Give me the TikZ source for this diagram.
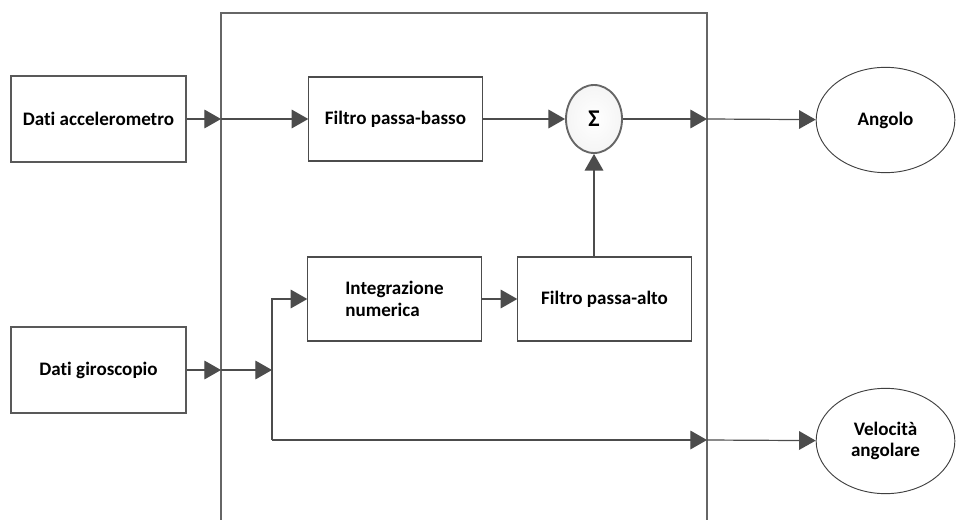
\documentclass[tikz,border=0pt]{standalone}
\usepackage{fontspec}
\setmainfont{Carlito}[Ligatures=NoCommon]
\usetikzlibrary{arrows.meta,shapes.geometric,shadows}

\begin{document}
\begin{tikzpicture}[x=0.75pt,y=-0.75pt,
    font=\fontsize{14.3}{16}\selectfont\bfseries,
    wire/.style={draw=black!70,line width=0.9pt},
    arr/.style={wire,-{Triangle[length=12.5pt,width=14pt]}},
    inbox/.style={draw=black!65,line width=1.5pt,fill=white,minimum width=131pt,minimum height=64pt,
      drop shadow={shadow xshift=0.7pt,shadow yshift=-0.7pt,fill=black!25}},
    block/.style={draw=black!70,line width=0.8pt,fill=white,minimum width=130pt,minimum height=63pt},
    sumnode/.style={ellipse,draw=black!60,line width=1.4pt,inner color=white,outer color=black!4,
      minimum width=42pt,minimum height=51pt,inner sep=0pt,font=\fontsize{18}{18}\selectfont\bfseries,
      drop shadow={shadow xshift=0.6pt,shadow yshift=-0.6pt,fill=black!20}},
    outnode/.style={ellipse,draw=black!75,line width=0.7pt,minimum width=104pt,minimum height=79pt,
      inner sep=0pt,align=center}]
  \useasboundingbox (0,0) rectangle (956,520);

  % filter frame, open at the bottom
  \draw[draw=black!60,line width=1.3pt] (221,520) -- (221,13) -- (707,13) -- (707,520);

  % sensors
  \node[inbox] (acc) at (98.5,119) {Dati accelerometro};
  \node[inbox] (gyr) at (98.5,370) {Dati giroscopio};

  % filter blocks
  \node[block] (lp) at (395.5,119) {Filtro passa-basso};
  \node[block,align=left] (integ) at (394.5,299) {Integrazione\\numerica};
  \node[block] (hp) at (604.5,299) {Filtro passa-alto};
  \node[sumnode] (sum) at (594,119) {Σ};

  % outputs
  \node[outnode] (ang) at (885.5,120) {Angolo};
  \node[outnode] (vel) at (885.5,441) {Velocità\\angolare};

  % points on the frame and the gyro branch
  \coordinate (inA) at (221,119);
  \coordinate (outA) at (707,119);
  \coordinate (inG) at (221,370);
  \coordinate (fork) at (272,370);
  \coordinate (forkB) at (272,440);
  \coordinate (outV) at (707,440);

  % accelerometer path
  \draw[arr] (acc) -- (inA);
  \draw[arr] (inA) -- (lp);
  \draw[arr] (lp) -- (sum);
  \draw[arr] (sum) -- (outA);
  \draw[arr] (outA) -- (ang);

  % gyroscope path
  \draw[arr] (gyr) -- (inG);
  \draw[arr] (inG) -- (fork);
  \draw[arr] (fork) |- (integ);
  \draw[arr] (integ) -- (hp);
  \draw[arr] (sum |- hp.north) -- (sum);
  \draw[wire] (fork) -- (forkB);
  \draw[arr] (forkB) -- (outV);
  \draw[arr] (outV) -- (vel);
\end{tikzpicture}
\end{document}
